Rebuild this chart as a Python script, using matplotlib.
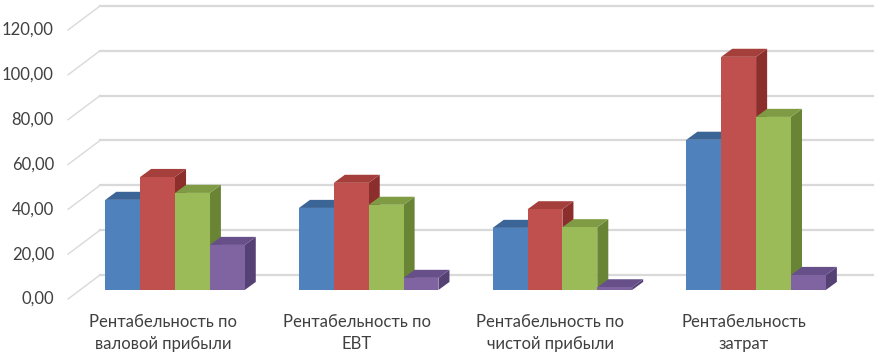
import numpy as np
import matplotlib.pyplot as plt
from matplotlib.patches import Polygon

categories = ['Рентабельность по\nваловой прибыли', 'Рентабельность по\nEBT',
              'Рентабельность по\nчистой прибыли', 'Рентабельность\nзатрат']
series_1 = [40.2, 36.6, 27.7, 67.0]
series_2 = [50.4, 47.8, 36.0, 104.0]
series_3 = [43.3, 38.0, 28.0, 77.2]
series_4 = [20.1, 5.4, 1.2, 6.7]
y_ticks = [0, 20, 40, 60, 80, 100, 120]

front = ['#4F81BD', '#C0504D', '#9BBB59', '#8064A2']
top = ['#3C6597', '#A43F3C', '#7F9C45', '#67508A']
side = ['#325480', '#8B2E2C', '#6A8436', '#564175']

plt.rcParams['font.family'] = ['Lato', 'DejaVu Sans']
fig = plt.figure(figsize=(8.79, 3.53), dpi=100)
ax = fig.add_axes([0, 0, 1, 1])
ax.set_xlim(-0.9035, 3.6345)
ax.set_ylim(-28.1, 129.35)
ax.axis('off')

# 3d look: depth offsets
bdx, bdy = 0.057, 3.6      # bar depth
wall_dy = 6.7              # back wall above front plane
wx0, wx1 = -0.387, 3.603   # wall gridline extent
fx0, fdy = -0.552, -4.0    # front end of the side-wall lines

for v in y_ticks:
    ax.plot([wx0, wx1], [v + wall_dy, v + wall_dy], color='#D9D9D9', lw=1.6, zorder=1)
    ax.plot([fx0, wx0], [v + fdy, v + wall_dy], color='#D9D9D9', lw=1.0, zorder=1)
    ax.text(-0.625, v + fdy, ('%.2f' % v).replace('.', ','), ha='right', va='center',
            fontsize=12, color='#404040')

w = 0.18
x = np.arange(len(categories))
series = [series_1, series_2, series_3, series_4]
for j, vals in enumerate(series):
    xs = x + (j - 1.5) * w
    for k, (xc, h) in enumerate(zip(xs, vals)):
        z = 2 + k * 10 + j * 2
        l, r = xc - w / 2, xc + w / 2
        ax.add_patch(Polygon([(r, 0), (r + bdx, bdy), (r + bdx, h + bdy), (r, h)],
                             closed=True, fc=side[j], ec='none', zorder=z))
        ax.add_patch(Polygon([(l, h), (l + bdx, h + bdy), (r + bdx, h + bdy), (r, h)],
                             closed=True, fc=top[j], ec='none', zorder=z))
        ax.bar(xc, h, width=w, color=front[j], zorder=z + 1)

for i, c in enumerate(categories):
    ax.text(i - 0.062, -10.8, c, ha='center', va='top', fontsize=12, color='#404040',
            linespacing=1.45)

fig.savefig('out.png', dpi=100)
